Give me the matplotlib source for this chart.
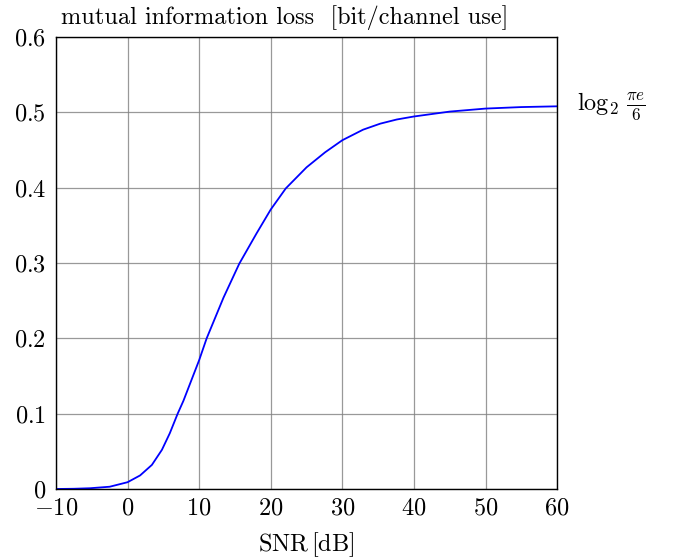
import matplotlib
matplotlib.use("Agg")
import matplotlib.pyplot as plt
import matplotlib.transforms as mtransforms

# values
snr_db = [-10, -7.5, -5.25, -2.5, 0, 1.75, 3.4, 4.8, 5.9, 7.0, 7.8, 8.9, 10,
          11.05, 13.4, 15.6, 18, 20, 22.1, 25, 27.6, 30, 32.9, 35.3, 37.6,
          40, 45, 50, 55, 60]
mi_loss = [0.0, 0.0003, 0.001, 0.003, 0.009, 0.018, 0.032, 0.052, 0.074,
           0.100, 0.117, 0.144, 0.171, 0.200, 0.254, 0.299, 0.339, 0.371,
           0.399, 0.427, 0.447, 0.463, 0.477, 0.485, 0.4905, 0.4945, 0.501,
           0.505, 0.507, 0.508]
x_ticks = [-10, 0, 10, 20, 30, 40, 50, 60]
y_ticks = [0, 0.1, 0.2, 0.3, 0.4, 0.5, 0.6]
y_tick_labels = ["0", "0.1", "0.2", "0.3", "0.4", "0.5", "0.6"]
limit_value = 0.508

plt.rcParams["font.family"] = "serif"
plt.rcParams["font.serif"] = ["cmr10", "DejaVu Serif"]
plt.rcParams["mathtext.fontset"] = "cm"
plt.rcParams["axes.unicode_minus"] = False
fs = 17.5

fig = plt.figure(figsize=(6.76, 5.6), dpi=100)
ax = fig.add_axes([0.0828, 0.1268, 0.7413, 0.8071])

ax.plot(snr_db, mi_loss, color="blue", linewidth=1.3)

ax.set_xlim(-10, 60)
ax.set_ylim(0, 0.6)
ax.set_xticks(x_ticks)
ax.set_xticklabels([f"${v}$" for v in x_ticks])
ax.set_yticks(y_ticks)
ax.set_yticklabels([f"${v}$" for v in y_tick_labels])
ax.tick_params(length=0, labelsize=fs)
ax.tick_params(axis="x", pad=6)
ax.tick_params(axis="y", pad=7)
ax.grid(True, color="#808080", linewidth=0.9, alpha=0.8)
for s in ax.spines.values():
    s.set_linewidth(1.0)

ax.set_xlabel("SNR$\\,$[dB]", fontsize=fs, labelpad=8)
ax.text(0.457, 1.015, "mutual information loss  [bit/channel use]",
        transform=ax.transAxes, ha="center", va="bottom", fontsize=fs)

trans = mtransforms.blended_transform_factory(ax.transAxes, ax.transData)
ax.text(1.04, limit_value, r"$\log_2\,\frac{\pi e}{6}$", transform=trans,
        ha="left", va="center", fontsize=fs)

fig.savefig("out.png", dpi=100)
